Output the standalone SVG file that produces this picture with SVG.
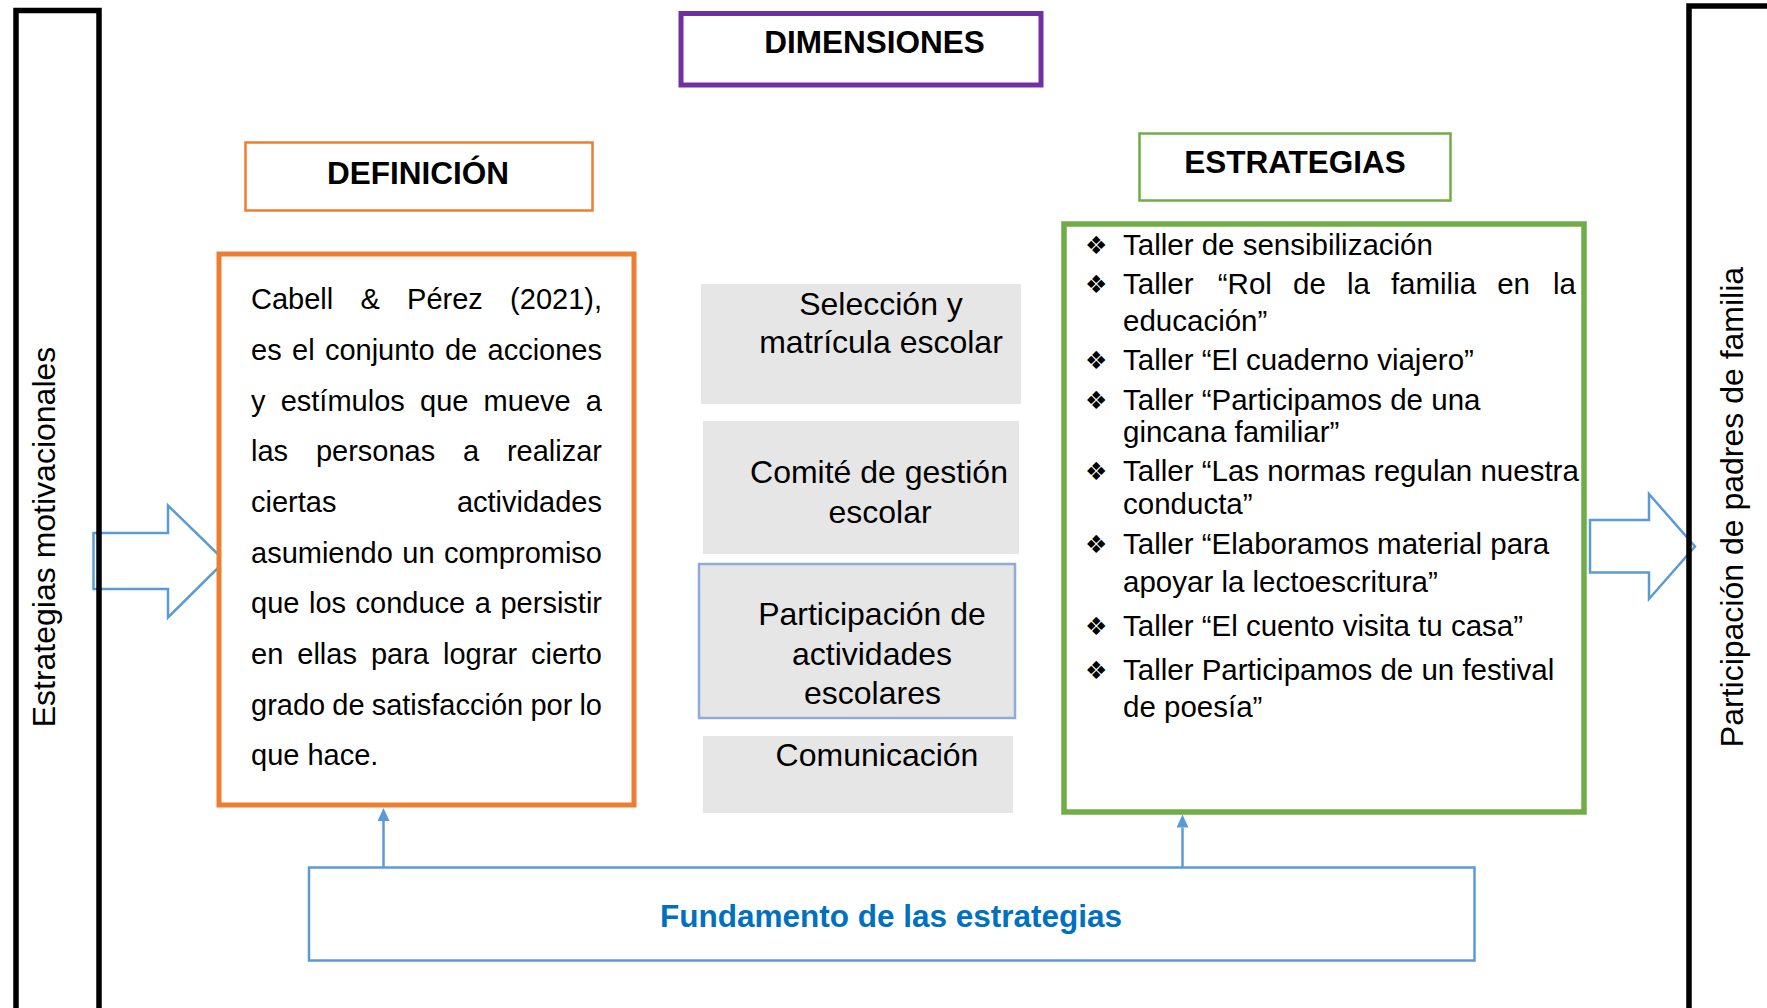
<svg xmlns="http://www.w3.org/2000/svg" width="1767" height="1008" viewBox="0 0 1767 1008">
<defs>
<style>
text{font-family:"Liberation Sans",Arial,sans-serif;fill:#000}
.t{font-size:31.5px;font-weight:bold;text-anchor:middle}
.d{font-size:29px}
.m{font-size:32px;text-anchor:middle}
.s{font-size:29.5px}
.b{font-family:"DejaVu Sans",sans-serif;font-size:25px}
.side{font-size:32px;text-anchor:middle}
.gray{fill:#E7E6E6}
.blk{fill:none;stroke:#000;stroke-width:5.5}
.conn{stroke:#5B9BD5;stroke-width:2.5;fill:none}
.barrow{fill:#fff;stroke:#5B9BD5;stroke-width:2.5;stroke-linejoin:miter}
</style>
<marker id="ah" viewBox="0 0 12 13" refX="6" refY="13" markerWidth="12" markerHeight="13" markerUnits="userSpaceOnUse" orient="0">
<path d="M6,0 L12,13 L0,13 z" fill="#5B9BD5"/>
</marker>
</defs>
<rect width="1767" height="1008" fill="#fff"/>

<g id="connectors">
<polygon class="barrow" points="93.5,533 168,533 168,505.5 225,561 168,617.5 168,589 93.5,589"/>
<polygon class="barrow" points="1590,520 1649,520 1649,494 1695,546.5 1649,599 1649,572.5 1590,572.5"/>
<line class="conn" x1="383.5" y1="867" x2="383.5" y2="821" marker-end="url(#ah)"/>
<line class="conn" x1="1182.5" y1="869" x2="1182.5" y2="827.5" marker-end="url(#ah)"/>
</g>

<g id="estrategias-motivacionales">
<rect class="blk" x="16" y="10.5" width="83" height="1100"/>
<text class="side" transform="translate(55,537) rotate(-90)">Estrategias motivacionales</text>
</g>

<g id="participacion-padres">
<rect class="blk" x="1689" y="6" width="120" height="1100"/>
<text class="side" transform="translate(1743,507) rotate(-90)">Participación de padres de familia</text>
</g>

<g id="dimensiones">
<rect x="681" y="13.5" width="360" height="71.5" fill="#fff" stroke="#7030A0" stroke-width="5"/>
<text class="t" x="874.5" y="53">DIMENSIONES</text>
</g>

<g id="definicion-title">
<rect x="245.5" y="142.5" width="347" height="68" fill="#fff" stroke="#ED7D31" stroke-width="2.5"/>
<text class="t" x="418" y="184">DEFINICIÓN</text>
</g>

<g id="estrategias-title">
<rect x="1139.5" y="133.5" width="311" height="67" fill="#fff" stroke="#70AD47" stroke-width="2.5"/>
<text class="t" x="1295" y="173">ESTRATEGIAS</text>
</g>

<g id="definicion">
<rect x="219" y="254" width="415" height="551" fill="#fff" stroke="#ED7D31" stroke-width="5"/>
<text class="d" y="309"><tspan x="251">Cabell</tspan><tspan x="360.5">&amp;</tspan><tspan x="407.1">Pérez</tspan><tspan x="602" text-anchor="end">(2021),</tspan></text>
<text class="d" y="360"><tspan x="251">es</tspan><tspan x="292">el</tspan><tspan x="324.9">conjunto</tspan><tspan x="444.9">de</tspan><tspan x="602" text-anchor="end">acciones</tspan></text>
<text class="d" y="411"><tspan x="251">y</tspan><tspan x="280.7">estímulos</tspan><tspan x="420">que</tspan><tspan x="483.6">mueve</tspan><tspan x="602" text-anchor="end">a</tspan></text>
<text class="d" y="461"><tspan x="251">las</tspan><tspan x="315.9">personas</tspan><tspan x="463">a</tspan><tspan x="602" text-anchor="end">realizar</tspan></text>
<text class="d" y="512"><tspan x="251">ciertas</tspan><tspan x="602" text-anchor="end">actividades</tspan></text>
<text class="d" y="563"><tspan x="251">asumiendo</tspan><tspan x="402.3">un</tspan><tspan x="602" text-anchor="end">compromiso</tspan></text>
<text class="d" y="613"><tspan x="251">que</tspan><tspan x="309">los</tspan><tspan x="355.6">conduce</tspan><tspan x="474.8">a</tspan><tspan x="602" text-anchor="end">persistir</tspan></text>
<text class="d" y="664"><tspan x="251">en</tspan><tspan x="297.3">ellas</tspan><tspan x="370.9">para</tspan><tspan x="443">lograr</tspan><tspan x="602" text-anchor="end">cierto</tspan></text>
<text class="d" y="715"><tspan x="251">grado</tspan><tspan x="332.3">de</tspan><tspan x="371.7">satisfacción</tspan><tspan x="530.4">por</tspan><tspan x="602" text-anchor="end">lo</tspan></text>
<text class="d" x="251" y="765">que hace.</text>
</g>

<g id="seleccion">
<rect class="gray" x="701" y="284" width="320" height="120"/>
<text class="m" x="881" y="315">Selección y</text>
<text class="m" x="881" y="353">matrícula escolar</text>
</g>

<g id="comite">
<rect class="gray" x="703" y="421" width="316" height="133"/>
<text class="m" x="879" y="483">Comité de gestión</text>
<text class="m" x="880" y="523">escolar</text>
</g>

<g id="participacion-actividades">
<rect class="gray" x="699" y="564" width="316" height="154" stroke="#8FAADC" stroke-width="2.5"/>
<text class="m" x="872" y="625">Participación de</text>
<text class="m" x="872" y="665">actividades</text>
<text class="m" x="872.5" y="704">escolares</text>
</g>

<g id="comunicacion">
<rect class="gray" x="703" y="736" width="310" height="77"/>
<text class="m" x="877" y="766">Comunicación</text>
</g>

<g id="estrategias">
<rect x="1064" y="224" width="520" height="588" fill="#fff" stroke="#70AD47" stroke-width="5.5"/>
<text class="b" x="1085" y="254">❖</text>
<text class="s" x="1123" y="255">Taller de sensibilización</text>
<text class="b" x="1085" y="292.5">❖</text>
<text class="s" y="293.5"><tspan x="1123">Taller</tspan><tspan x="1217.8">“Rol</tspan><tspan x="1293">de</tspan><tspan x="1346.9">la</tspan><tspan x="1390.9">familia</tspan><tspan x="1497.2">en</tspan><tspan x="1576" text-anchor="end">la</tspan></text>
<text class="s" x="1123" y="331">educación”</text>
<text class="b" x="1085" y="369.3">❖</text>
<text class="s" x="1123" y="370.3">Taller “El cuaderno viajero”</text>
<text class="b" x="1085" y="408.6">❖</text>
<text class="s" x="1123" y="409.6">Taller “Participamos de una</text>
<text class="s" x="1123" y="442">gincana familiar”</text>
<text class="b" x="1085" y="479.5">❖</text>
<text class="s" x="1123" y="480.5">Taller “Las normas regulan nuestra</text>
<text class="s" x="1123" y="513.5">conducta”</text>
<text class="b" x="1085" y="552.6">❖</text>
<text class="s" x="1123" y="553.6">Taller “Elaboramos material para</text>
<text class="s" x="1123" y="591.8">apoyar la lectoescritura”</text>
<text class="b" x="1085" y="634.8">❖</text>
<text class="s" x="1123" y="635.8">Taller “El cuento visita tu casa”</text>
<text class="b" x="1085" y="678.8">❖</text>
<text class="s" x="1123" y="679.8">Taller Participamos de un festival</text>
<text class="s" x="1123" y="717">de poesía”</text>
</g>

<g id="fundamento">
<rect x="309" y="867.5" width="1165.5" height="93" fill="#fff" stroke="#5B9BD5" stroke-width="2.5"/>
<text class="t" x="891" y="927" style="fill:#0070C0">Fundamento de las estrategias</text>
</g>
</svg>
